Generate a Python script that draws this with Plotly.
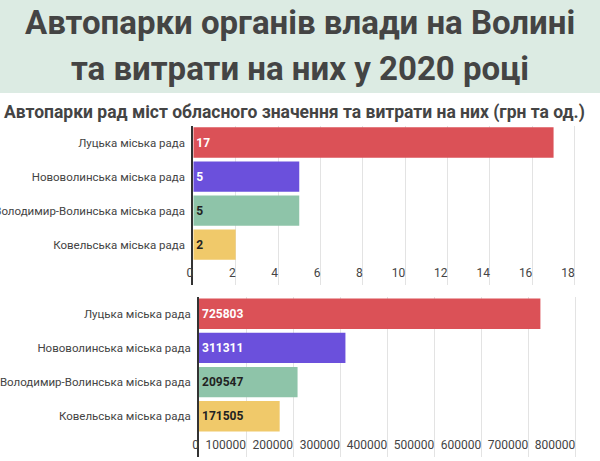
import plotly.graph_objects as go

categories = ["Луцька міська рада", "Нововолинська міська рада",
              "Володимир-Волинська міська рада", "Ковельська міська рада"]
vehicles = [17, 5, 5, 2]
costs = [725803, 311311, 209547, 171505]
bar_colors = ["#DB5157", "#6B50DC", "#8EC4A9", "#F0C96A"]
text_colors = ["#ffffff", "#ffffff", "#222222", "#222222"]
x1_ticks = [0, 2, 4, 6, 8, 10, 12, 14, 16, 18]
x2_ticks = [0, 100000, 200000, 300000, 400000, 500000, 600000, 700000, 800000]

title_line1 = "Автопарки органів влади на Волині"
title_line2 = "та витрати на них у 2020 році"
subtitle = "Автопарки рад міст обласного значення та витрати на них (грн та од.)"

W, H = 600, 461
FONT = "Roboto"
GREY = "#444444"

fig = go.Figure()

fig.add_trace(go.Bar(
    x=vehicles, y=categories, orientation="h",
    marker=dict(color=bar_colors, line=dict(width=0)),
    text=[str(v) for v in vehicles], textposition="inside",
    insidetextanchor="start", textangle=0,
    textfont=dict(family=FONT, size=12, color=text_colors, weight="bold"),
    xaxis="x", yaxis="y", width=0.89, hoverinfo="skip", showlegend=False,
))
fig.add_trace(go.Bar(
    x=costs, y=categories, orientation="h",
    marker=dict(color=bar_colors, line=dict(width=0)),
    text=[str(v) for v in costs], textposition="inside",
    insidetextanchor="start", textangle=0,
    textfont=dict(family=FONT, size=12, color=text_colors, weight="bold"),
    xaxis="x2", yaxis="y2", width=0.89, hoverinfo="skip", showlegend=False,
))

def px_x(p):
    return p / W

def px_y(p):
    return (H - p) / H

xcommon = dict(
    showgrid=True, gridcolor="#e3e3e3", gridwidth=1, zeroline=False,
    ticks="", ticklabelposition="inside left", ticklabeloverflow="allow",
    tickangle=0, automargin=False,
    tickfont=dict(family=FONT, size=12, color=GREY), fixedrange=True,
    showline=False,
)
ycommon = dict(
    type="category", showgrid=False, zeroline=False, ticks="",
    showline=True, linecolor="#333333", linewidth=2, automargin=False,
    tickfont=dict(family=FONT, size=11.5, color=GREY),
    categoryorder="array", categoryarray=categories,
    ticklabelstandoff=4,
)

fig.update_layout(
    width=W, height=H, margin=dict(l=0, r=0, t=0, b=0, autoexpand=False),
    paper_bgcolor="white", plot_bgcolor="white",
    xaxis=dict(domain=[px_x(193.3), px_x(579)], range=[0, 18.2],
               tickvals=x1_ticks, anchor="y", **xcommon),
    yaxis=dict(domain=[px_y(285), px_y(125.5)], range=[4.19, -0.5],
               anchor="x", **ycommon),
    xaxis2=dict(domain=[px_x(199), px_x(580)], range=[0, 810000],
                tickvals=x2_ticks, ticktext=[str(v) for v in x2_ticks],
                anchor="y2", **xcommon),
    yaxis2=dict(domain=[px_y(457), px_y(296.6)], range=[4.19, -0.5],
                anchor="x2", **ycommon),
    bargap=0.1,
    shapes=[dict(type="rect", xref="paper", yref="paper", x0=0, x1=1,
                 y0=px_y(93), y1=1, fillcolor="#DCEBE3", line=dict(width=0),
                 layer="below")],
    annotations=[
        dict(text=title_line1, xref="paper", yref="paper", x=0.5, y=px_y(22),
             xanchor="center", yanchor="middle", showarrow=False,
             font=dict(family=FONT, size=33, color=GREY, weight="bold")),
        dict(text=title_line2, xref="paper", yref="paper", x=0.5, y=px_y(68),
             xanchor="center", yanchor="middle", showarrow=False,
             font=dict(family=FONT, size=33, color=GREY, weight="bold")),
        dict(text=subtitle, xref="paper", yref="paper", x=px_x(2), y=px_y(112),
             xanchor="left", yanchor="middle", showarrow=False,
             font=dict(family=FONT, size=17.5, color=GREY, weight="bold")),
    ],
)

fig.write_html("out.html")
